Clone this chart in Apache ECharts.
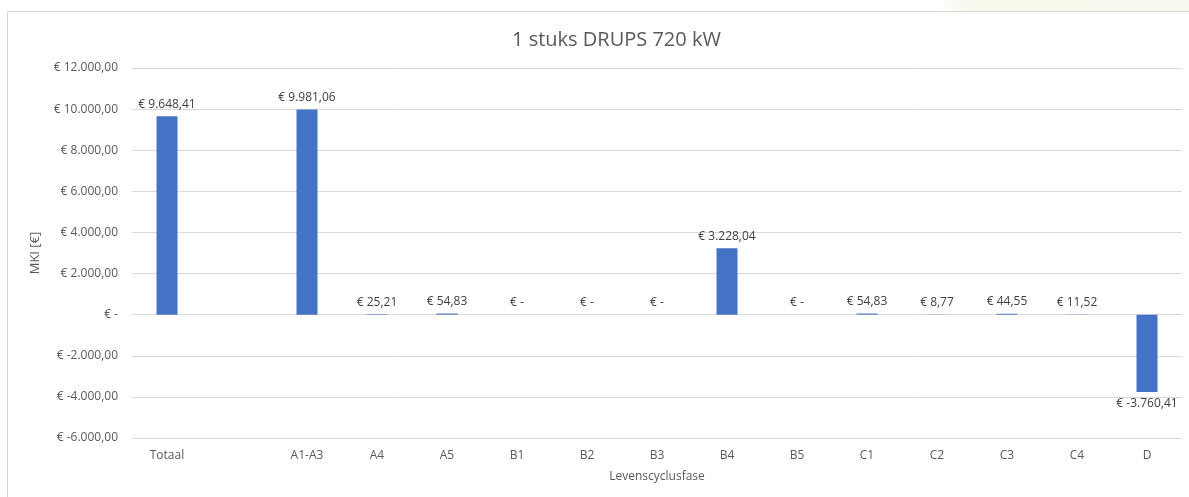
<!DOCTYPE html>
<html>
<head>
<meta charset="utf-8">
<script src="https://cdn.jsdelivr.net/npm/echarts@6/dist/echarts.min.js"></script>
<style>
  html, body { margin: 0; padding: 0; background: #fff; }
  .glow { position: absolute; left: 940px; top: 0; width: 260px; height: 11px;
    background: linear-gradient(100deg, rgba(255,255,255,0) 0, #f6f9ec 30px, #f7f9ee 100%); }
  .frame { position: absolute; left: 7px; top: 11px; width: 1210px; height: 500px;
    border: 1px solid #d9d9d9; box-sizing: border-box; }
  #chart { position: absolute; left: 0; top: 0; width: 1189px; height: 497px; }
</style>
</head>
<body>
<div class="glow"></div>
<div class="frame"></div>
<div id="chart"></div>
<script>
// levenscyclusfasen (lege kolom tussen Totaal en A1-A3)
var phases = ['Totaal', '', 'A1-A3', 'A4', 'A5', 'B1', 'B2', 'B3', 'B4', 'B5', 'C1', 'C2', 'C3', 'C4', 'D']
var mki = [9648.41, null, 9981.06, 25.21, 54.83, 0, 0, 0, 3228.04, 0, 54.83, 8.77, 44.55, 11.52, -3760.41]
var yTicks = { min: -6000, max: 12000, step: 2000 }

function euro (v) {
  if (v === null || v === undefined) return ''
  if (v === 0) return '€ -'
  var neg = v < 0
  var parts = Math.abs(v).toFixed(2).split('.')
  var int = parts[0].replace(/\B(?=(\d{3})+(?!\d))/g, '.')
  return '€ ' + (neg ? '-' : '') + int + ',' + parts[1]
}

var font = '"Open Sans", "Noto Sans", sans-serif'
var grey = '#595959'

var myChart = echarts.init(document.getElementById('chart'))
var option = {
  animation: false,
  textStyle: { fontFamily: font },
  title: {
    text: '1 stuks DRUPS 720 kW',
    left: 507,
    top: 25,
    textStyle: { fontSize: 20, fontWeight: 'normal', color: grey, fontFamily: font }
  },
  grid: { left: 132, right: 7, top: 68, bottom: 59 },
  xAxis: {
    type: 'category',
    data: phases,
    name: 'Levenscyclusfase',
    nameLocation: 'middle',
    nameGap: 33,
    nameTextStyle: { color: grey, fontSize: 12 },
    axisLine: { show: false, onZero: false },
    axisTick: { show: false },
    axisLabel: { color: grey, fontSize: 12, margin: 12, interval: 0 }
  },
  yAxis: {
    type: 'value',
    min: yTicks.min,
    max: yTicks.max,
    interval: yTicks.step,
    name: 'MKI [€]',
    nameLocation: 'middle',
    nameGap: 90,
    nameTextStyle: { color: grey, fontSize: 13 },
    axisLine: { show: false },
    axisTick: { show: false },
    axisLabel: { color: grey, fontSize: 12, margin: 14, formatter: euro },
    splitLine: { lineStyle: { color: '#d9d9d9', width: 1 } }
  },
  series: [{
    type: 'bar',
    data: mki.map(function (v) {
      return {
        value: v,
        label: { position: v < 0 ? 'bottom' : 'top' }
      }
    }),
    barWidth: 21,
    itemStyle: { color: '#4472c4' },
    label: {
      show: true,
      color: '#404040',
      fontSize: 12,
      distance: 6,
      formatter: function (p) { return euro(p.value) }
    }
  }]
}
myChart.setOption(option)
</script>
</body>
</html>
